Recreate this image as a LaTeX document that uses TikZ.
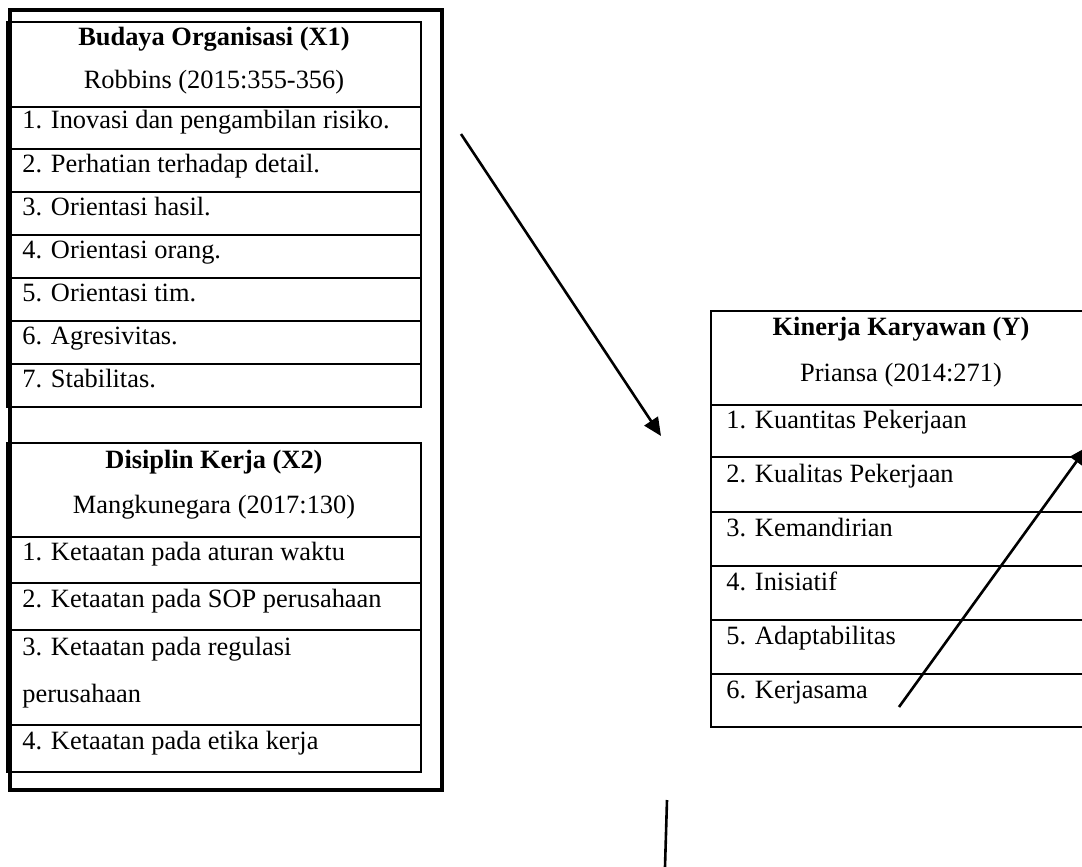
\documentclass[tikz,border=0pt]{standalone}
\usepackage{fontspec}
\setmainfont{Liberation Serif}
\usetikzlibrary{arrows.meta}
\tikzset{
  frame/.style={line width=1.3pt},
  outerframe/.style={line width=1.7pt},
  item/.style={anchor=base west, inner sep=0pt},
  head/.style={anchor=base, inner sep=0pt, font=\fontsize{13.2}{15}\selectfont\bfseries},
  source/.style={anchor=base, inner sep=0pt},
  arr/.style={line width=1.3pt, -{Triangle[length=9pt, width=8pt]}}
}
\begin{document}
\begin{tikzpicture}[x=0.5pt, y=-0.5pt,
    every node/.append style={font=\fontsize{13.2}{15}\selectfont}]
      \useasboundingbox (0,0) rectangle (1082,867);
      \clip (0,0) rectangle (1082,867);
      % outer frame round X1 and X2
      \draw[outerframe] (10,10) rectangle (442,790);
      % Budaya Organisasi (X1)
      \draw[frame] (7,22) rectangle (421,407);
      \draw[frame] (7,107) -- (421,107);
      \draw[frame] (7,149) -- (421,149);
      \draw[frame] (7,192) -- (421,192);
      \draw[frame] (7,235) -- (421,235);
      \draw[frame] (7,278) -- (421,278);
      \draw[frame] (7,321) -- (421,321);
      \draw[frame] (7,364) -- (421,364);
      \node[head] (x1t) at (214,46) {Budaya Organisasi (X1)};
      \node[source] (x1r) at (214,88) {Robbins (2015:355-356)};
      \node[item] (x1a) at (22,128) {1. Inovasi dan pengambilan risiko.};
      \node[item] (x1b) at (22,172) {2. Perhatian terhadap detail.};
      \node[item] (x1c) at (22,215) {3. Orientasi hasil.};
      \node[item] (x1d) at (22,258) {4. Orientasi orang.};
      \node[item] (x1e) at (22,301) {5. Orientasi tim.};
      \node[item] (x1f) at (22,344) {6. Agresivitas.};
      \node[item] (x1g) at (22,387) {7. Stabilitas.};
      % Disiplin Kerja (X2)
      \draw[frame] (7,443) rectangle (421,772);
      \draw[frame] (7,537) -- (421,537);
      \draw[frame] (7,583) -- (421,583);
      \draw[frame] (7,630) -- (421,630);
      \draw[frame] (7,725) -- (421,725);
      \node[head] (x2t) at (214,468) {Disiplin Kerja (X2)};
      \node[source] (x2r) at (214,513) {Mangkunegara (2017:130)};
      \node[item] (x2a) at (22,560) {1. Ketaatan pada aturan waktu};
      \node[item] (x2b) at (22,607) {2. Ketaatan pada SOP perusahaan};
      \node[item] (x2c) at (22,655) {3. Ketaatan pada regulasi};
      \node[item] (x2d) at (22,702) {perusahaan};
      \node[item] (x2e) at (22,749) {4. Ketaatan pada etika kerja};
      % Kinerja Karyawan (Y)
      \draw[frame] (711,311) rectangle (1091,727);
      \draw[frame] (711,405) -- (1091,405);
      \draw[frame] (711,457) -- (1091,457);
      \draw[frame] (711,512) -- (1091,512);
      \draw[frame] (711,566) -- (1091,566);
      \draw[frame] (711,620) -- (1091,620);
      \draw[frame] (711,674) -- (1091,674);
      \node[head] (yt) at (901,335) {Kinerja Karyawan (Y)};
      \node[source] (yr) at (901,381) {Priansa (2014:271)};
      \node[item] (ya) at (726,428) {1. Kuantitas Pekerjaan};
      \node[item] (yb) at (726,482) {2. Kualitas Pekerjaan};
      \node[item] (yc) at (726,536) {3. Kemandirian};
      \node[item] (yd) at (726,590) {4. Inisiatif};
      \node[item] (ye) at (726,644) {5. Adaptabilitas};
      \node[item] (yf) at (726,698) {6. Kerjasama};
      % arrows
      \coordinate (p1) at (461,134);
      \coordinate (q1) at (661,436);
      \coordinate (p2) at (899,707);
      \coordinate (q2) at (1087,447);
      \coordinate (p3) at (667,800);
      \coordinate (q3) at (665,867);
      \draw[arr] (p1) -- (q1);
      \draw[arr] (p2) -- (q2);
      \draw[frame] (p3) -- (q3);
    \end{tikzpicture}
\end{document}
